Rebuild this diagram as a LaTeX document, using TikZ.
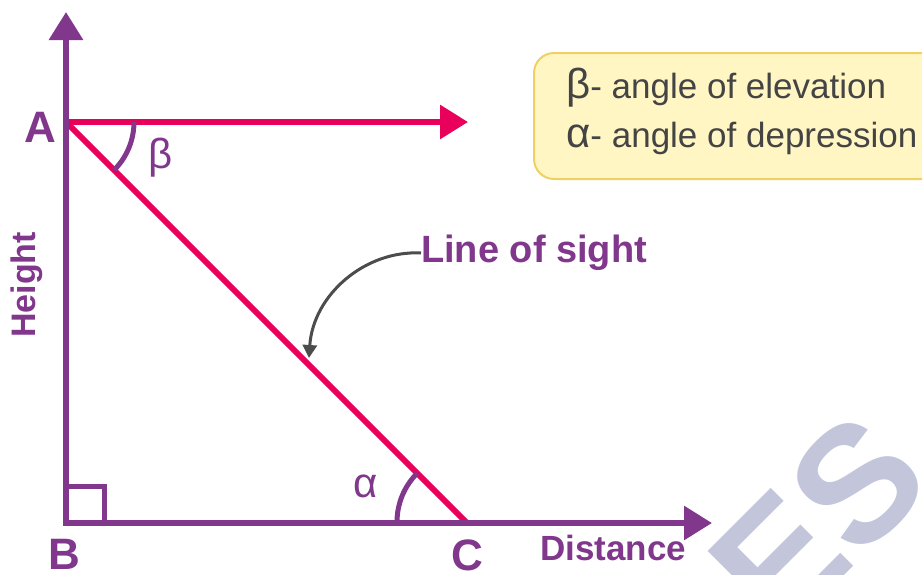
\documentclass[tikz,border=0pt]{standalone}
\usepackage{fontspec}
\setmainfont{Liberation Sans}
\usetikzlibrary{arrows.meta}
\definecolor{sightPurple}{RGB}{128,55,140}
\definecolor{sightPink}{RGB}{232,0,90}
\definecolor{noteFill}{RGB}{255,246,196}
\definecolor{noteEdge}{RGB}{240,208,100}
\definecolor{noteText}{RGB}{68,68,68}
\definecolor{markGray}{RGB}{195,198,219}
\newcommand{\pxFont}[1]{\fontsize{#1}{#1}\selectfont}

\begin{document}
\begin{tikzpicture}[x=1pt,y=-1pt,
  axis/.style={draw=sightPurple, line width=6pt, line cap=rect, -{Triangle[length=28pt,width=33pt]}},
  sight/.style={draw=sightPink, line width=6pt},
  anglemark/.style={draw=sightPurple, line width=5pt},
  vertex/.style={text=sightPurple, font=\pxFont{44}\bfseries, inner sep=0pt},
  greek/.style={text=sightPurple, font=\pxFont{42}, inner sep=0pt},
  axislabel/.style={text=sightPurple, font=\pxFont{34}\bfseries, inner sep=0pt},
  pointer/.style={draw=black!70, line width=3pt, -{Triangle[length=13pt,width=14pt]}},
  notebox/.style={fill=noteFill, draw=noteEdge, line width=2pt, rounded corners=20pt},
  notetext/.style={text=noteText, font=\pxFont{35}, inner sep=0pt}]
\useasboundingbox (0,0) rectangle (922,574);
\clip (0,0) rectangle (922,574);
% watermark
\node[text=markGray, font=\pxFont{165}\bfseries, rotate=45] (mark) at (818,522) {ES};
% points
\coordinate (A) at (66,122);
\coordinate (B) at (66,523);
\coordinate (C) at (466,522);
\coordinate (yTip) at (66,12);
\coordinate (xTip) at (712,523);
\coordinate (hTip) at (468,122);
% lines of sight
\draw[sight, -{Triangle[length=28pt,width=33pt]}] (A) -- (hTip);
\draw[sight] (A) -- (C);
% axes
\draw[axis] (B) -- (yTip);
\draw[axis] (B) -- (xTip);
% angles
\draw[anglemark] (B) ++(0,-37) -- ++(38,0) -- ++(0,37);
\draw[anglemark] (A) ++(68,0) arc[start angle=0, end angle=45, radius=68];
\draw[anglemark] (C) ++(-69,0) arc[start angle=180, end angle=225, radius=69];
% labels
\node[vertex] (lblA) at (40,127) {A};
\node[vertex] (lblB) at (64,554) {B};
\node[vertex] (lblC) at (467,555) {C};
\node[greek] (beta) at (161,158) {β};
\node[greek] (alpha) at (366,486) {α};
\node[axislabel, rotate=90] (height) at (27,285) {Height};
\node[axislabel, font=\pxFont{35}\bfseries, anchor=west] (dist) at (540,548) {Distance};
\node[axislabel, font=\pxFont{38}\bfseries, anchor=west] (los) at (421,253) {Line of sight};
\coordinate (losTip) at (309,358);
\draw[pointer] (los.west) .. controls (365,250) and (313,295) .. (losTip);
% legend
\node[notebox, anchor=north west, minimum width=440pt, minimum height=126pt] (note) at (533,52) {};
\node[notetext, anchor=base west] (elev) at (566,98) {{\pxFont{42}β}- angle of elevation};
\node[notetext, anchor=base west] (depr) at (566,147) {{\pxFont{42}α}- angle of depression};
\end{tikzpicture}
\end{document}
